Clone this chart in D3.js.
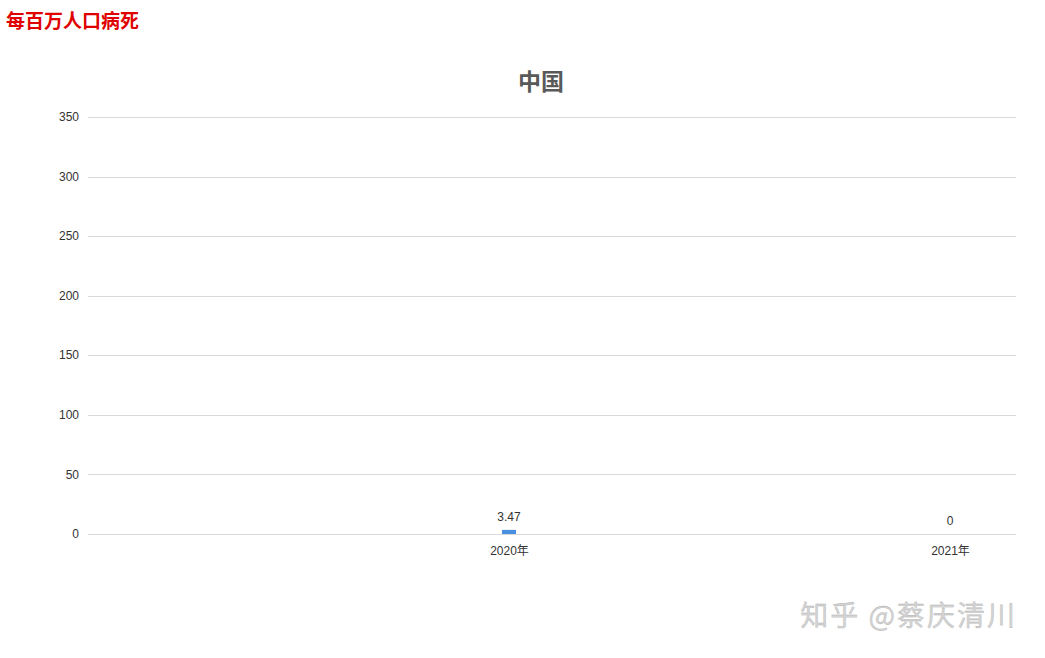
<!DOCTYPE html>
<html lang="zh">
<head>
  <meta charset="UTF-8">
  <title>每百万人口病死 - 中国</title>
  <script src="https://d3js.org/d3.v7.min.js"></script>
  <style>
    html, body {
      margin: 0;
      padding: 0;
      overflow: hidden;
      background: #fff;
      font-family: "Noto Sans CJK SC", "Noto Sans", Arial, sans-serif;
    }
    svg { display: block; }
    .grid line {
      stroke: #d9d9d9;
      shape-rendering: crispEdges;
    }
    .grid path { display: none; }
    .axis text, .ylabel {
      font-size: 12px;
      fill: #333;
      font-family: "Liberation Sans", "Noto Sans CJK SC", sans-serif;
    }
    .axis path, .axis line { display: none; }
  </style>
</head>
<body>
  <div id="chart"></div>

  <script>
    // Data
    const categories = ['2020年', '2021年'];
    const deaths = [3.47, 0];
    const yTicks = [0, 50, 100, 150, 200, 250, 300, 350];

    const width = 1045;
    const height = 658;
    const margin = { top: 117, right: 29, bottom: 124, left: 88 };
    const innerWidth = width - margin.left - margin.right;
    const innerHeight = height - margin.top - margin.bottom;

    const root = d3.select('#chart')
      .append('svg')
      .attr('width', width)
      .attr('height', height);

    // Top-left label
    root.append('text')
      .attr('x', 6)
      .attr('y', 28)
      .attr('fill', '#e00000')
      .attr('font-size', 19)
      .attr('font-weight', 'bold')
      .attr('font-family', '"Noto Sans CJK SC", sans-serif')
      .text('每百万人口病死');

    // Title
    root.append('text')
      .attr('x', 541)
      .attr('y', 90)
      .attr('text-anchor', 'middle')
      .attr('fill', '#595959')
      .attr('font-size', 23)
      .attr('font-weight', 'bold')
      .attr('font-family', '"Noto Sans CJK SC", sans-serif')
      .text('中国');

    const svg = root.append('g')
      .attr('transform', `translate(${margin.left}, ${margin.top})`);

    // Scales (categories sit off-centre in the source)
    const xScale = d3.scalePoint()
      .domain(categories)
      .range([421, 862]);

    const yScale = d3.scaleLinear()
      .domain([0, 350])
      .range([innerHeight, 0]);

    // Gridlines
    svg.append('g')
      .attr('class', 'grid')
      .selectAll('line')
      .data(yTicks)
      .join('line')
      .attr('x1', 0)
      .attr('x2', innerWidth)
      .attr('y1', d => Math.round(yScale(d)) + 0.5)
      .attr('y2', d => Math.round(yScale(d)) + 0.5);

    // Y axis labels
    svg.selectAll('.ylabel')
      .data(yTicks)
      .join('text')
      .attr('class', 'ylabel')
      .attr('x', -9)
      .attr('y', d => yScale(d))
      .attr('dy', '0.35em')
      .attr('text-anchor', 'end')
      .text(d => d);

    // X axis labels
    svg.append('g')
      .attr('class', 'axis')
      .attr('transform', `translate(0, ${innerHeight})`)
      .call(d3.axisBottom(xScale).tickSize(0).tickPadding(12));

    // Bars
    const barWidth = 14;
    svg.selectAll('.bar')
      .data(categories)
      .join('rect')
      .attr('class', 'bar')
      .attr('x', d => xScale(d) - barWidth / 2)
      .attr('y', (d, i) => yScale(deaths[i]))
      .attr('width', barWidth)
      .attr('height', (d, i) => innerHeight - yScale(deaths[i]))
      .attr('fill', '#4a90e2');

    // Value labels
    svg.selectAll('.value')
      .data(categories)
      .join('text')
      .attr('class', 'value')
      .attr('x', d => xScale(d))
      .attr('y', (d, i) => yScale(deaths[i]) - 9)
      .attr('text-anchor', 'middle')
      .attr('font-size', 12)
      .attr('fill', '#333')
      .attr('font-family', '"Liberation Sans", sans-serif')
      .text((d, i) => deaths[i]);

    // Watermark
    root.append('text')
      .attr('x', 1017)
      .attr('y', 626)
      .attr('text-anchor', 'end')
      .attr('font-size', 28)
      .attr('letter-spacing', 2)
      .attr('fill', '#d4d4d4')
      .attr('stroke', '#b0b0b0')
      .attr('stroke-width', 0.3)
      .attr('font-family', '"Noto Sans CJK SC", sans-serif')
      .text('知乎 @蔡庆清川');
  </script>
</body>
</html>
